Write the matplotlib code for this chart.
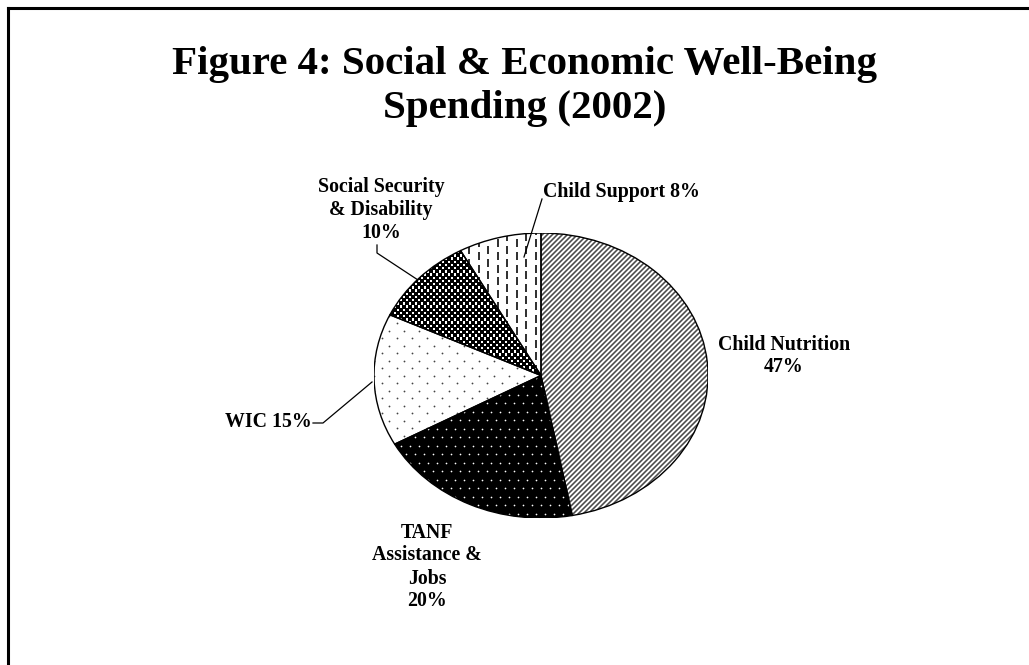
import numpy as np
import matplotlib
matplotlib.use("Agg")
import matplotlib.pyplot as plt
from matplotlib.patches import Wedge
from matplotlib.collections import LineCollection

# Spending shares (percent), drawn clockwise from 12 o'clock
categories = ["Child Nutrition", "TANF Assistance & Jobs", "WIC",
              "Social Security & Disability", "Child Support"]
shares = [47, 20, 15, 10, 8]
labels = ["Child Nutrition\n47%", "TANF\nAssistance &\nJobs\n20%", "WIC 15%",
          "Social Security\n& Disability\n10%", "Child Support 8%"]
title_lines = ["Figure 4: Social & Economic Well-Being", "Spending (2002)"]

W, H = 1029, 665
fig = plt.figure(figsize=(W / 100, H / 100), dpi=100)
fig.patch.set_facecolor("white")

# Pie geometry in pixels (the pie is drawn as a flattened ellipse)
cx, cy, rx, ry = 541, 375.5, 167, 142.5
ax = fig.add_axes([(cx - rx) / W, 1 - (cy + ry) / H, 2 * rx / W, 2 * ry / H])

face = ["white", "black", "white", "white", "white"]
wedges, _ = ax.pie(shares, startangle=90, counterclock=False, colors=face,
                   wedgeprops=dict(edgecolor="none", linewidth=0))
ax.set_aspect("auto")
ax.set_xlim(-1, 1)
ax.set_ylim(-1, 1)
ax.axis("off")


def to_data(x, y):
    x = np.asarray(x, float)
    y = np.asarray(y, float)
    return (x - cx) / rx, (cy - y) / ry


def seg(p, q):
    a = to_data(*p)
    b = to_data(*q)
    return [(float(a[0]), float(a[1])), (float(b[0]), float(b[1]))]


def grid_points(dx, dy, stagger):
    xs, ys = [], []
    rows = np.arange(cy - ry - dy, cy + ry + dy, dy)
    for i, yy in enumerate(rows):
        off = stagger if i % 2 else 0.0
        cols = np.arange(cx - rx - dx, cx + rx + dx, dx) + off
        xs.extend(cols)
        ys.extend([yy] * len(cols))
    return to_data(xs, ys)


pt = 0.72  # points per pixel at 100 dpi

# Child Nutrition: fine diagonal hatching
segs = []
x0, x1 = cx - rx - 5, cx + rx + 5
for c in np.arange(cx - rx + cy - ry - 20, cx + rx + cy + ry + 20, 5.0):
    segs.append(seg((x0, c - x0), (x1, c - x1)))
lc = LineCollection(segs, colors="#4a4a4a", linewidths=1.6 * pt, zorder=1.5)
ax.add_collection(lc)
lc.set_clip_path(wedges[0])

# TANF: white dots on black
px_, py_ = grid_points(9, 8.5, 4.5)
sc = ax.scatter(px_, py_, s=(1.7 * pt) ** 2, c="white", marker="o",
                linewidths=0, zorder=1.5)
sc.set_clip_path(wedges[1])

# WIC: sparse grey dots on white
px_, py_ = grid_points(15, 7.5, 7.5)
sc = ax.scatter(px_, py_, s=(1.8 * pt) ** 2, c="#444444", marker="o",
                linewidths=0, zorder=1.5)
sc.set_clip_path(wedges[2])

# Social Security & Disability: dense dark dots
px_, py_ = grid_points(6, 3.2, 3.0)
sc = ax.scatter(px_, py_, s=(3.2 * pt) ** 2, c="black", marker="s",
                linewidths=0, zorder=1.5)
sc.set_clip_path(wedges[3])

# Child Support: staggered vertical dashes
dsegs = []
for j, xx in enumerate(np.arange(cx - rx, cx + rx, 9.5)):
    off = 6.0 if j % 2 else 0.0
    for yy in np.arange(cy - ry - 12 + off, cy + ry, 12.5):
        dsegs.append(seg((xx, yy), (xx, yy + 8)))
dc = LineCollection(dsegs, colors="#333333", linewidths=2.0 * pt, zorder=1.5)
ax.add_collection(dc)
dc.set_clip_path(wedges[4])

# Slice outlines on top of the textures
for w in wedges:
    ax.add_patch(Wedge(w.center, w.r, w.theta1, w.theta2, fill=False,
                       edgecolor="black", linewidth=1.0, zorder=3))

font = dict(family="Liberation Serif", weight="bold", color="black")


def label(x, y, text, ha="center", va="center", size=14.3):
    tx, ty = to_data(x, y)
    ax.text(float(tx), float(ty), text, ha=ha, va=va, fontsize=size,
            linespacing=1.2, clip_on=False, **font)


def leader(pts):
    xs, ys = to_data([p[0] for p in pts], [p[1] for p in pts])
    ax.plot(xs, ys, color="black", linewidth=0.9, clip_on=False, zorder=4)


label(784, 356, labels[0])
label(427, 567, labels[1])
label(312, 422, labels[2], ha="right")
label(381, 210, labels[3])
label(543, 192, labels[4], ha="left")

leader([(313, 423), (323, 423), (372, 382)])
leader([(377, 245), (377, 253), (418, 280)])
leader([(542, 199), (524, 257)])

# Title
fig.text(525 / W, 1 - 74 / H, title_lines[0], ha="center", va="baseline",
         fontsize=29.5, **font)
fig.text(525 / W, 1 - 118 / H, title_lines[1], ha="center", va="baseline",
         fontsize=29.5, **font)

# Page frame (top and left edges)
fig.add_artist(plt.Line2D([8 / W, 1], [1 - 8 / H, 1 - 8 / H],
                          transform=fig.transFigure, color="black", linewidth=2.2))
fig.add_artist(plt.Line2D([8 / W, 8 / W], [1 - 8 / H, 0],
                          transform=fig.transFigure, color="black", linewidth=2.2))

fig.savefig("out.png", dpi=100)
